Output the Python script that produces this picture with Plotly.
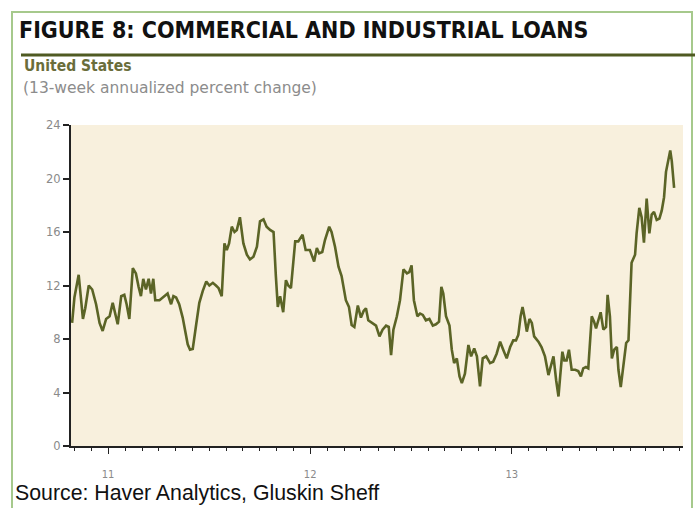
import numpy as np
import pandas as pd
import plotly.graph_objects as go

# ---------------- data ----------------
start_date = "2011-04-27"
weeks_since_start = [
    0.0, 0.6, 1.7, 2.3, 2.8, 3.4, 4.3, 5.2, 6.2, 7.1, 7.9, 8.8, 9.7, 10.5, 11.2, 11.8,
    12.7, 13.5, 14.1, 14.8, 15.7, 16.5, 17.2, 17.8, 18.4, 19.1, 19.8, 20.4, 21.0, 21.5,
    22.6, 23.9, 24.7, 25.6, 26.2, 26.9, 27.7, 28.6, 29.3, 29.9, 30.5, 31.2, 32.1, 32.9,
    33.8, 34.7, 35.5, 36.4, 37.2, 37.9, 38.7, 39.4, 40.0, 40.6, 41.3, 42.0, 42.6, 43.4,
    44.3, 45.2, 46.0, 46.9, 47.8, 48.6, 49.5, 50.3, 51.2, 52.1, 52.7, 53.2, 53.8, 54.6,
    55.3, 55.9, 56.6, 57.7, 58.5, 59.6, 60.4, 61.5, 62.6, 63.3, 63.9, 64.7, 65.4, 66.5,
    67.1, 68.0, 68.9, 69.7, 70.8, 71.6, 72.3, 73.0, 73.9, 74.7, 75.4, 76.0, 76.6, 77.5,
    78.6, 79.5, 80.3, 81.2, 81.9, 82.5, 83.1, 84.0, 84.8, 85.7, 86.6, 87.2, 87.8, 88.4,
    89.3, 90.0, 90.7, 91.5, 92.4, 93.3, 94.1, 94.9, 95.5, 96.0, 96.7, 97.6, 98.2, 98.8,
    99.5, 100.2, 100.8, 101.6, 102.5, 103.2, 104.0, 104.7, 105.5, 106.2, 107.1, 108.1,
    108.9, 109.8, 110.7, 111.5, 112.4, 113.3, 114.1, 114.8, 115.4, 116.0, 116.5, 117.1,
    117.6, 118.3, 118.9, 119.5, 120.6, 121.4, 122.3, 123.2, 123.8, 124.5, 125.2, 125.8,
    126.2, 126.8, 127.3, 127.9, 128.5, 129.2, 130.1, 130.9, 131.6, 132.2, 132.9, 133.5,
    134.4, 135.0, 135.5, 136.1, 136.7, 137.4, 138.1, 138.5, 139.1, 139.6, 140.2, 140.9,
    141.3, 141.9, 142.6, 143.3, 143.9, 144.3, 144.7, 145.6, 146.0, 146.7, 147.3, 147.9,
    148.6, 149.3, 149.9, 150.5, 151.2, 151.9, 152.5, 153.1, 153.6, 154.7, 155.1, 155.7,
]
loan_growth = [
    9.2, 11.1, 12.8, 11.1, 9.5, 10.3, 12.0, 11.7, 10.6, 9.2, 8.6, 9.5, 9.7, 10.7, 9.8, 9.1,
    11.2, 11.3, 10.6, 9.5, 13.3, 12.9, 11.9, 11.2, 12.5, 11.7, 12.5, 11.4, 12.5, 10.9,
    10.9, 11.2, 11.4, 10.6, 11.2, 11.1, 10.6, 9.6, 8.6, 7.6, 7.2, 7.25, 9.1, 10.7,
    11.6, 12.3, 12.0, 12.2, 12.0, 11.8, 11.2, 15.15, 14.65, 15.15, 16.4, 16.0, 16.15, 17.1,
    15.15, 14.3, 13.95, 14.15, 14.9, 16.8, 16.95, 16.4, 16.15, 16.0, 12.7, 10.4, 11.2, 10.0,
    12.4, 12.0, 11.8, 15.3, 15.3, 15.8, 14.65, 14.65, 13.8, 14.8, 14.4, 14.5, 15.4, 16.4,
    16.0, 14.9, 13.4, 12.7, 10.9, 10.4, 9.05, 8.9, 10.5, 9.6, 10.1, 10.3, 9.4, 9.2,
    9.0, 8.2, 8.7, 9.0, 8.9, 6.8, 8.7, 9.7, 10.9, 13.2, 12.9, 13.0, 13.5, 10.9,
    9.7, 9.9, 9.8, 9.4, 9.5, 9.0, 9.1, 9.3, 11.9, 11.4, 9.7, 9.0, 7.2, 6.2,
    6.55, 5.2, 4.7, 5.4, 7.55, 6.7, 7.3, 6.7, 4.45, 6.55, 6.7, 6.2,
    6.3, 6.9, 7.8, 7.2, 6.55, 7.4, 7.9, 7.9, 8.3, 9.7, 10.4, 9.5,
    8.55, 9.5, 9.2, 8.2, 7.8, 7.4, 6.7, 5.3, 5.9, 6.7, 4.9, 3.7,
    5.1, 7.05, 6.4, 6.4, 7.2, 5.7, 5.7, 5.6, 5.2, 5.8, 5.9, 5.8,
    9.7, 9.3, 8.8, 9.5, 10.0, 8.7, 8.9, 11.3, 9.7, 6.55, 7.2, 7.4,
    5.7, 4.4, 6.2, 7.7, 7.9, 11.2, 13.7, 14.3, 15.9, 17.8, 17.1, 15.2,
    18.5, 15.9, 17.3, 17.5, 16.9, 17.0, 17.6, 18.6, 20.5, 22.1, 21.3, 19.3,
]
y_ticks = [0, 4, 8, 12, 16, 20, 24]
year_labels = {"2011-07-01": "11", "2012-07-01": "12", "2013-07-01": "13"}
x_range = ["2011-04-25", "2014-05-07"]

title_text = "FIGURE 8: COMMERCIAL AND INDUSTRIAL LOANS"
subtitle1 = "United States"
subtitle2 = "(13-week annualized percent change)"
source_text = "Source: Haver Analytics, Gluskin Sheff"

# ---------------- build ----------------
dates = pd.Timestamp(start_date) + pd.to_timedelta(np.array(weeks_since_start) * 7, unit="D")

W, H = 695, 508
L, R, T, B = 71, 12, 125, 62
PW, PH = W - L - R, H - T - B


def px(x):
    return (x - L) / PW


def py(y):
    return (H - B - y) / PH


quarters = pd.date_range("2011-07-01", "2014-04-01", freq="QS")
q_text = [year_labels.get(d.strftime("%Y-%m-%d"), "") for d in quarters]
months = pd.date_range("2011-05-01", "2014-05-01", freq="MS")
years = pd.date_range("2012-01-01", "2014-01-01", freq="YS")

LINE = "#5b6426"
AX = "#222222"
TICKFONT = dict(family="DejaVu Sans, Liberation Sans, sans-serif", size=11.5, color="#8a8a8a")

fig = go.Figure()
fig.add_trace(go.Scatter(
    x=dates, y=loan_growth, mode="lines",
    line=dict(color=LINE, width=2.6), showlegend=False, hoverinfo="skip",
))

fig.update_layout(
    width=W, height=H,
    margin=dict(l=L, r=R, t=T, b=B),
    paper_bgcolor="white",
    plot_bgcolor="#f8f0dd",
    showlegend=False,
    xaxis=dict(
        type="date", range=x_range, showgrid=False, zeroline=False,
        showline=True, linecolor=AX, linewidth=2,
        tickmode="array", tickvals=quarters, ticktext=q_text,
        ticks="outside", ticklen=6, tickwidth=1.3, tickcolor=AX,
        ticklabelstandoff=12, tickfont=dict(TICKFONT, size=10),
        minor=dict(tickmode="array", tickvals=months, ticks="outside",
                   ticklen=3, tickwidth=1.2, tickcolor=AX, showgrid=False),
    ),
    xaxis2=dict(
        type="date", range=x_range, overlaying="x", anchor="y", side="bottom",
        showgrid=False, zeroline=False, showline=False,
        tickmode="array", tickvals=years, showticklabels=False,
        ticks="outside", ticklen=10, tickwidth=1.6, tickcolor=AX,
    ),
    yaxis=dict(
        range=[0, 24], showgrid=False, zeroline=False,
        showline=True, linecolor=AX, linewidth=2,
        tickmode="array", tickvals=y_ticks,
        ticks="outside", ticklen=6, tickwidth=1.5, tickcolor=AX,
        tickfont=TICKFONT,
    ),
)

# frame, rule
fig.add_shape(type="rect", xref="paper", yref="paper",
              x0=px(12), x1=px(692), y0=py(12), y1=py(530),
              line=dict(color="#a6c98c", width=2), fillcolor="rgba(0,0,0,0)", layer="below")
fig.add_shape(type="line", xref="paper", yref="paper",
              x0=px(21), x1=px(695), y0=py(55), y1=py(55),
              line=dict(color="#4f5a22", width=3))

COND = "Liberation Sans Narrow, DejaVu Sans Condensed, Arial Narrow, sans-serif"
fig.add_annotation(text=f"<b>{title_text}</b>", xref="paper", yref="paper",
                   x=px(17), y=py(30), xanchor="left", yanchor="middle", showarrow=False,
                   font=dict(family=COND, size=23, color="#111111"))
fig.add_annotation(text=f"<b>{subtitle1}</b>", xref="paper", yref="paper",
                   x=px(22), y=py(66), xanchor="left", yanchor="middle", showarrow=False,
                   font=dict(family=COND, size=15.5, color="#6a6d3a"))
fig.add_annotation(text=subtitle2, xref="paper", yref="paper",
                   x=px(21), y=py(88), xanchor="left", yanchor="middle", showarrow=False,
                   font=dict(family="DejaVu Sans, sans-serif", size=15.5, color="#8c8c8c"))
fig.add_annotation(text=source_text, xref="paper", yref="paper",
                   x=px(13), y=py(493), xanchor="left", yanchor="middle", showarrow=False,
                   font=dict(family="Liberation Sans, Arial, sans-serif", size=21.3, color="#111111"))

fig.write_html("out.html")
